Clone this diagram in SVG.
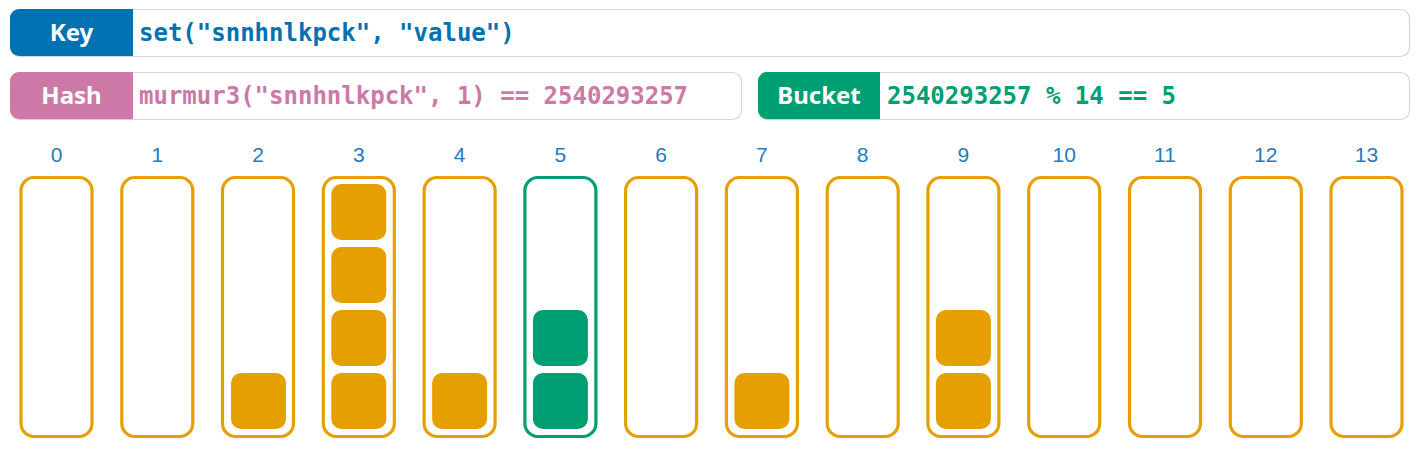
<svg xmlns="http://www.w3.org/2000/svg" width="1417" height="450" viewBox="0 0 1417 450">
<style>
.frame{fill:#fff;stroke:#d4d4d4;stroke-width:1.2}
.lbl{font-family:"Noto Sans","Open Sans",sans-serif;font-weight:bold;font-size:24px;fill:#fff;text-anchor:middle}
.code{font-family:"DejaVu Sans Mono","Liberation Mono",monospace;font-weight:bold;font-size:24px}
.num{font-family:"Liberation Sans",Arial,sans-serif;font-size:21px;fill:#1f7bbf;text-anchor:middle}
.bk{fill:#fff;stroke:#e69f00;stroke-width:3.2}
.bkg{fill:#fff;stroke:#009e73;stroke-width:3.2}
.it{fill:#e69f00}
.itg{fill:#009e73}
</style>
<g id="key">
<rect class="frame" x="10.5" y="9.5" width="1399" height="47" rx="9"/>
<path d="M133 9 H19 A9 9 0 0 0 10 18 V47 A9 9 0 0 0 19 56 H133 Z" fill="#0072b2"/>
<text class="lbl" x="71.5" y="41">Key</text>
<text class="code" x="139" y="41" fill="#0072b2">set("snnhnlkpck", "value")</text>
</g>
<g id="hash">
<rect class="frame" x="10.5" y="72.5" width="731" height="47" rx="9"/>
<path d="M133 72 H19 A9 9 0 0 0 10 81 V110 A9 9 0 0 0 19 119 H133 Z" fill="#cc79a7"/>
<text class="lbl" x="71.5" y="104">Hash</text>
<text class="code" x="139" y="104" fill="#cc79a7">murmur3("snnhnlkpck", 1) == 2540293257</text>
</g>
<g id="bucketcalc">
<rect class="frame" x="758.5" y="72.5" width="651" height="47" rx="9"/>
<path d="M880 72 H767 A9 9 0 0 0 758 81 V110 A9 9 0 0 0 767 119 H880 Z" fill="#009e73"/>
<text class="lbl" x="819" y="104">Bucket</text>
<text class="code" x="887" y="104" fill="#009e73">2540293257 % 14 == 5</text>
</g>
<g id="labels">
<text class="num" x="56.5" y="162">0</text>
<text class="num" x="157.3" y="162">1</text>
<text class="num" x="258" y="162">2</text>
<text class="num" x="358.8" y="162">3</text>
<text class="num" x="459.6" y="162">4</text>
<text class="num" x="560.4" y="162">5</text>
<text class="num" x="661.1" y="162">6</text>
<text class="num" x="761.9" y="162">7</text>
<text class="num" x="862.7" y="162">8</text>
<text class="num" x="963.4" y="162">9</text>
<text class="num" x="1064.2" y="162">10</text>
<text class="num" x="1165" y="162">11</text>
<text class="num" x="1265.8" y="162">12</text>
<text class="num" x="1366.5" y="162">13</text>
</g>
<g id="b0"><rect class="bk" x="21" y="177.5" width="71" height="259" rx="13"/></g>
<g id="b1"><rect class="bk" x="121.8" y="177.5" width="71" height="259" rx="13"/></g>
<g id="b2"><rect class="bk" x="222.5" y="177.5" width="71" height="259" rx="13"/>
<rect class="it" x="231" y="373" width="55" height="56" rx="10"/></g>
<g id="b3"><rect class="bk" x="323.3" y="177.5" width="71" height="259" rx="13"/>
<rect class="it" x="331.3" y="184" width="55" height="56" rx="10"/>
<rect class="it" x="331.3" y="247" width="55" height="56" rx="10"/>
<rect class="it" x="331.3" y="310" width="55" height="56" rx="10"/>
<rect class="it" x="331.3" y="373" width="55" height="56" rx="10"/></g>
<g id="b4"><rect class="bk" x="424.1" y="177.5" width="71" height="259" rx="13"/>
<rect class="it" x="432.1" y="373" width="55" height="56" rx="10"/></g>
<g id="b5"><rect class="bkg" x="524.9" y="177.5" width="71" height="259" rx="13"/>
<rect class="itg" x="532.9" y="310" width="55" height="56" rx="10"/>
<rect class="itg" x="532.9" y="373" width="55" height="56" rx="10"/></g>
<g id="b6"><rect class="bk" x="625.6" y="177.5" width="71" height="259" rx="13"/></g>
<g id="b7"><rect class="bk" x="726.4" y="177.5" width="71" height="259" rx="13"/>
<rect class="it" x="734.4" y="373" width="55" height="56" rx="10"/></g>
<g id="b8"><rect class="bk" x="827.2" y="177.5" width="71" height="259" rx="13"/></g>
<g id="b9"><rect class="bk" x="927.9" y="177.5" width="71" height="259" rx="13"/>
<rect class="it" x="935.9" y="310" width="55" height="56" rx="10"/>
<rect class="it" x="935.9" y="373" width="55" height="56" rx="10"/></g>
<g id="b10"><rect class="bk" x="1028.7" y="177.5" width="71" height="259" rx="13"/></g>
<g id="b11"><rect class="bk" x="1129.5" y="177.5" width="71" height="259" rx="13"/></g>
<g id="b12"><rect class="bk" x="1230.3" y="177.5" width="71" height="259" rx="13"/></g>
<g id="b13"><rect class="bk" x="1331" y="177.5" width="71" height="259" rx="13"/></g>
<g id="connectors"/>
</svg>
